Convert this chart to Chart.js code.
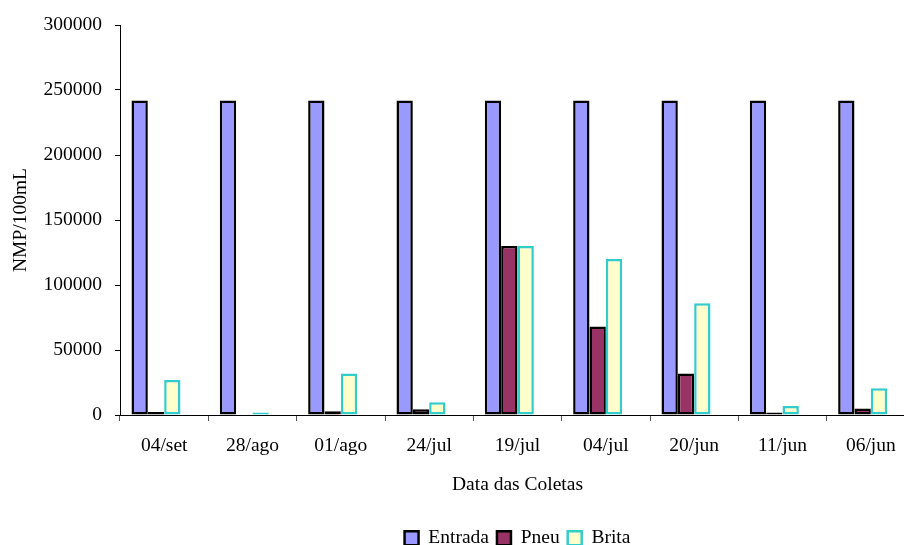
<!DOCTYPE html>
<html>
<head>
<meta charset="utf-8">
<script src="https://cdn.jsdelivr.net/npm/chart.js@4/dist/chart.umd.min.js"></script>
<style>
  html, body { margin: 0; padding: 0; background: #fff; overflow: hidden; }
  #wrap { width: 920px; height: 558px; }
</style>
</head>
<body>
<div id="wrap"><canvas id="c" width="920" height="558"></canvas></div>
<script>
// Datas das coletas e contagens NMP/100mL por ponto de amostragem
const coletas = ['04/set', '28/ago', '01/ago', '24/jul', '19/jul', '04/jul', '20/jun', '11/jun', '06/jun'];
const entrada = [241960, 241960, 241960, 241960, 241960, 241960, 241960, 241960, 241960];
const pneu    = [2300, 0, 2800, 4500, 130000, 68000, 32000, 2000, 5000];
const brita   = [27000, 2000, 32000, 9800, 130000, 120000, 86000, 7000, 20500];
const yMax = 300000;
const yStep = 50000;

const serif = "'Liberation Serif', 'Times New Roman', serif";
Chart.defaults.font.family = serif;
Chart.defaults.font.size = 19.5;
Chart.defaults.color = '#000';

new Chart(document.getElementById('c'), {
  type: 'bar',
  data: {
    labels: coletas,
    datasets: [
      { label: 'Entrada', data: entrada, backgroundColor: '#9999FF', borderColor: '#000', borderWidth: 2.5, borderSkipped: false },
      { label: 'Pneu', data: pneu, backgroundColor: '#993366', borderColor: '#000', borderWidth: 2.5, borderSkipped: false },
      { label: 'Brita', data: brita, backgroundColor: '#FFFFCC', borderColor: '#33CCCC', borderWidth: 2.5, borderSkipped: false },
      // empty fourth slot in each group
      { label: '', data: coletas.map(() => null), backgroundColor: 'rgba(0,0,0,0)' }
    ]
  },
  options: {
    responsive: false,
    animation: false,
    devicePixelRatio: 1,
    layout: { padding: { top: 25, right: 5, left: 0, bottom: 0 } },
    datasets: { bar: { categoryPercentage: 0.74, barPercentage: 1 } },
    plugins: {
      tooltip: { enabled: false },
      legend: {
        position: 'bottom',
        fullSize: false,
        labels: {
          boxWidth: 14,
          boxHeight: 14,
          padding: 8,
          filter: (item) => item.text !== ''
        }
      }
    },
    scales: {
      x: {
        offset: true,
        grid: { offset: true, drawOnChartArea: false, drawTicks: true, tickLength: 6, color: '#555' },
        border: { display: true, color: '#000', width: 1 },
        ticks: { padding: 13, maxRotation: 0 },
        title: { display: true, text: 'Data das Coletas', padding: { top: 0, bottom: 24 } },
        afterFit: (s) => { s.height = 105.5; }
      },
      y: {
        min: 0,
        max: yMax,
        ticks: { stepSize: yStep, padding: 13, callback: (v) => String(v) },
        grid: { drawOnChartArea: false, drawTicks: true, tickLength: 5, color: '#000' },
        border: { display: true, color: '#000', width: 1 },
        title: { display: true, text: 'NMP/100mL', padding: { top: 9, bottom: 0 } },
        afterFit: (s) => { s.width = 120; }
      }
    }
  }
});
</script>
</body>
</html>
